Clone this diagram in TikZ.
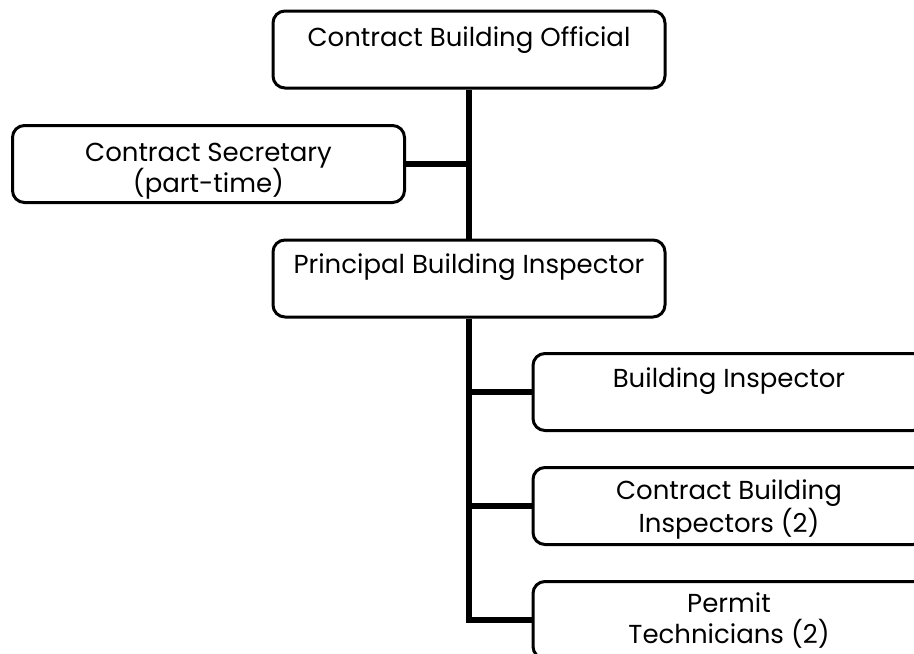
\documentclass[tikz,border=0pt]{standalone}
\usepackage{fontspec}
\setmainfont{Poppins}
\begin{document}
\begin{tikzpicture}[x=1pt,y=-1pt,
  orgbox/.style={draw=black, line width=3pt, rounded corners=12pt, fill=white,
    minimum width=392pt, minimum height=77pt, inner sep=0pt},
  boxtext/.style={anchor=north, inner sep=0pt, align=center,
    font=\fontsize{26}{31}\selectfont},
  link/.style={draw=black, line width=6pt}]
\useasboundingbox (0,0) rectangle (914,654);
\begin{scope}
\clip (0,0) rectangle (914,654);

% boxes
\node[orgbox] (cbo) at (469,49.5) {};
\node[orgbox] (sec) at (208.5,164) {};
\node[orgbox] (pbi) at (469,278.5) {};
\node[orgbox] (bi)  at (729,392) {};
\node[orgbox] (cbi) at (729,506) {};
\node[orgbox] (pt)  at (729,620) {};

% connectors
\path[link] (cbo.south) -- (pbi.north);
\path[link] (sec.east) -- (sec.east -| cbo.south);
\path[link] (pbi.south) |- (pt.west);
\path[link] (bi.west) -- (bi.west -| pbi.south);
\path[link] (cbi.west) -- (cbi.west -| pbi.south);

% labels, hung from the top edge of each box
\node[boxtext] (cbot) at ([yshift=-17pt]cbo.north) {Contract Building Official};
\node[boxtext] (sect) at ([yshift=-19pt]sec.north) {Contract Secretary\\(part-time)};
\node[boxtext] (pbit) at ([yshift=-15pt]pbi.north) {Principal Building Inspector};
\node[boxtext] (bit)  at ([yshift=-16pt]bi.north) {Building Inspector};
\node[boxtext] (cbit) at ([yshift=-14pt]cbi.north) {Contract Building\\Inspectors (2)};
\node[boxtext] (ptt)  at ([yshift=-13pt]pt.north) {Permit\\Technicians (2)};
\end{scope}
\end{tikzpicture}
\end{document}
